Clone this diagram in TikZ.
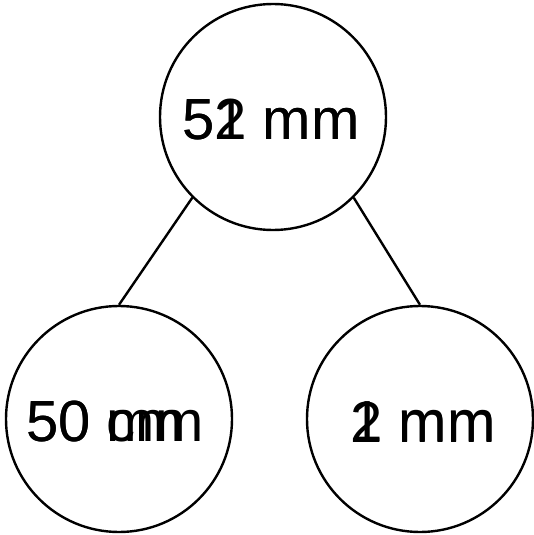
\documentclass[tikz,border=0pt]{standalone}
\usepackage{fontspec}
\setmainfont{Liberation Sans}
\begin{document}
\begin{tikzpicture}[x=1pt,y=-1pt,
  bubble/.style={circle,draw=black,line width=2.4pt,minimum size=226pt,inner sep=0pt},
  label text/.style={inner sep=0pt,font=\fontsize{58}{62}\selectfont},
  link/.style={line width=2.4pt}]
\useasboundingbox (0,0) rectangle (534,535);
\node[bubble] (top) at (273,117) {};
\node[bubble] (left) at (119,419) {};
\node[bubble] (right) at (420,419) {};
\node[label text] (topa) at ([shift={(-2,3)}]top.center) {52 mm};
\node[label text] (topb) at (topa.center) {51 mm};
\node[label text] (lefta) at ([shift={(-4,3)}]left.center) {50 mm};
\node[label text,anchor=base west] (leftb) at (lefta.base west) {50 cm};
\node[label text] (righta) at ([shift={(3,3)}]right.center) {2 mm};
\node[label text] (rightb) at (righta.center) {1 mm};
\draw[link] (top.south west) -- (left.north);
\draw[link] (top.south east) -- (right.north);
\end{tikzpicture}
\end{document}
